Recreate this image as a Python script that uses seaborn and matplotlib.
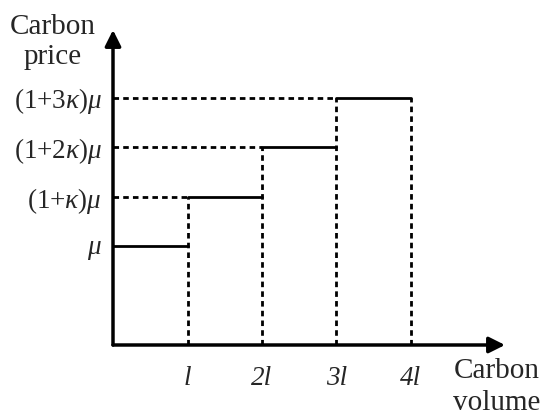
import numpy as np
import pandas as pd
import seaborn as sns
import matplotlib.pyplot as plt

# step chart data (x in units of l, y in arbitrary price units)
step_start = [0, 1, 2, 3]
step_end = [1, 2, 3, 4]
price_level = [2, 3, 4, 5]
y_labels = [r'$\mu$', r'$(1{+}\kappa)\mu$', r'$(1{+}2\kappa)\mu$', r'$(1{+}3\kappa)\mu$']
x_ticks = [1, 2, 3, 4]
x_labels = ['l', '2l', '3l', '4l']

sns.set_style('white')
plt.rcParams['font.family'] = ['Liberation Serif', 'DejaVu Serif']
plt.rcParams['mathtext.fontset'] = 'custom'
plt.rcParams['mathtext.rm'] = 'Liberation Serif'
plt.rcParams['mathtext.it'] = 'Liberation Serif:italic'

fig = plt.figure(figsize=(5.5, 4.2), dpi=100)
ax = fig.add_axes([113 / 550, 75 / 420, 392 / 550, 315 / 420])
ax.set_xlim(0, 392 / 74.5)
ax.set_ylim(0, 315 / 49.5)

# solid steps
segs = pd.DataFrame({
    'x': step_start + step_end,
    'y': price_level + price_level,
    'seg': list(range(4)) + list(range(4)),
})
sns.lineplot(data=segs, x='x', y='y', units='seg', estimator=None,
             color='black', lw=2, ax=ax, legend=False)

# dashed guides
dash = (0, (2.0, 1.5))
for i in range(1, 4):
    ax.plot([0, step_start[i]], [price_level[i], price_level[i]],
            color='black', lw=2, ls=dash)
for i in range(4):
    ax.plot([step_end[i], step_end[i]], [0, price_level[min(i + 1, 3)]],
            color='black', lw=2, ls=dash)

# axes with arrows
ax.annotate('', xy=(392 / 74.5, 0), xytext=(0, 0), annotation_clip=False,
            arrowprops=dict(arrowstyle='-|>', lw=2.5, color='black',
                            mutation_scale=24, shrinkA=0, shrinkB=0))
ax.annotate('', xy=(0, 315 / 49.5), xytext=(0, 0), annotation_clip=False,
            arrowprops=dict(arrowstyle='-|>', lw=2.5, color='black',
                            mutation_scale=24, shrinkA=0, shrinkB=0))

for s in ax.spines.values():
    s.set_visible(False)
ax.set_yticks(price_level, y_labels)
ax.set_xticks(x_ticks, x_labels)
ax.tick_params(length=0, labelsize=19.5)
ax.tick_params(axis='y', pad=8)
ax.tick_params(axis='x', pad=15)
for t in ax.get_xticklabels():
    t.set_fontstyle('italic')
ax.set_xlabel('')
ax.set_ylabel('')

fig.text(53 / 550, 1 - 42 / 420, 'Carbon\nprice', ha='center', va='center',
         fontsize=21, linespacing=1.25)
fig.text(497 / 550, 1 - 387 / 420, 'Carbon\nvolume', ha='center', va='center',
         fontsize=21, linespacing=1.25)

fig.savefig('out.png', dpi=100)
